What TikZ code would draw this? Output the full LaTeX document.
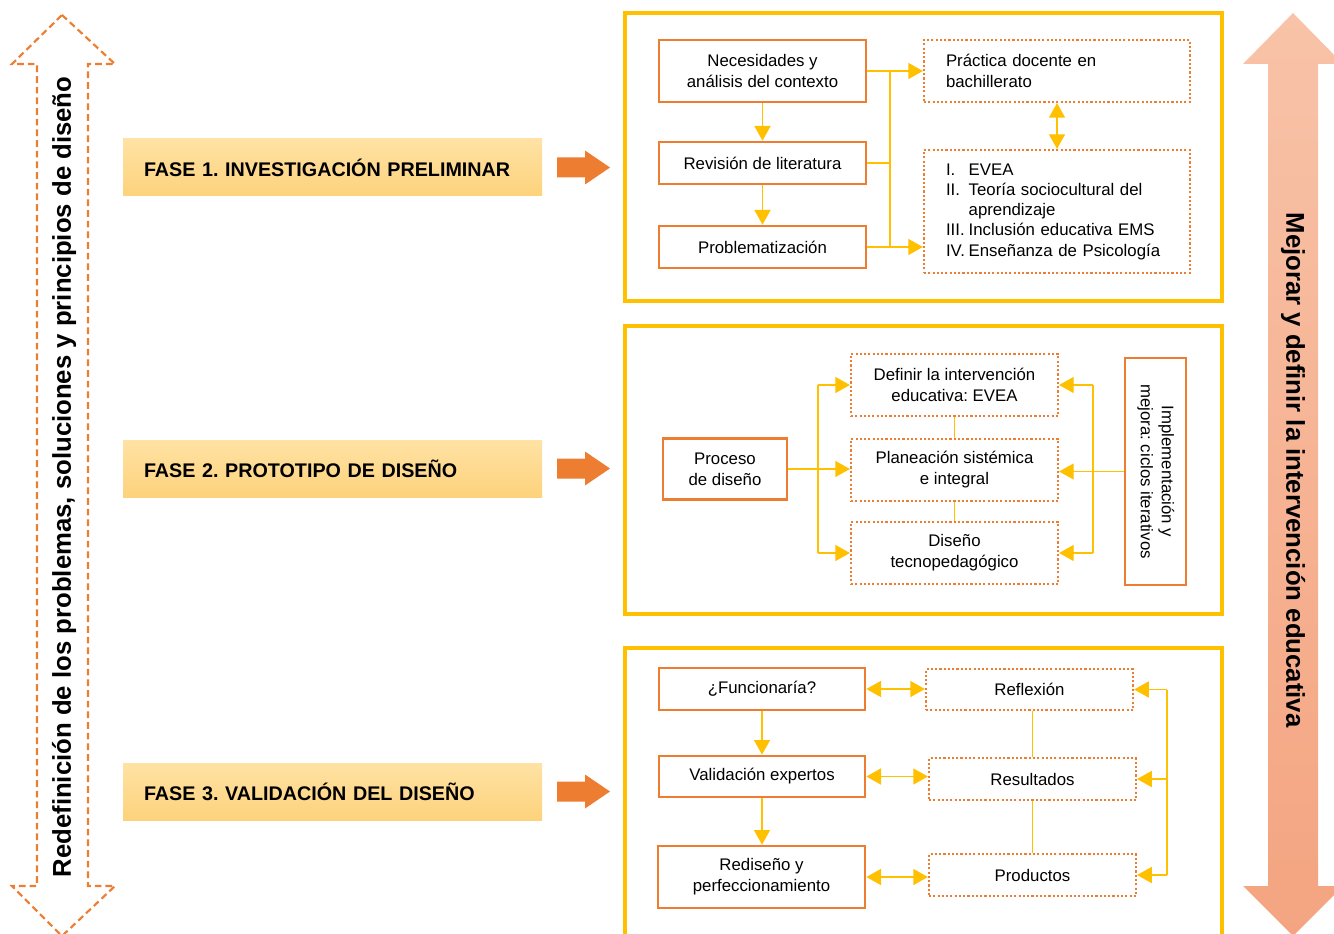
\documentclass[tikz,border=0pt]{standalone}
\usepackage{fontspec}
\setmainfont{Liberation Sans}
\usetikzlibrary{arrows.meta}
\definecolor{naranja}{HTML}{ED7D31}
\definecolor{amarillo}{HTML}{FFC000}
\definecolor{faseA}{HTML}{FFE2A4}
\definecolor{faseB}{HTML}{FDD27C}
\definecolor{flechaA}{HTML}{F8C3A8}
\definecolor{flechaB}{HTML}{F4A480}
\def\pxu{0.75pt}
\frenchspacing

\begin{document}
\begin{tikzpicture}[x=0.75pt, y=-0.75pt,
    solidbox/.style={draw=naranja, line width=2pt, fill=white, align=center,
      inner sep=0pt, font=\fontsize{12.6}{15.7}\selectfont},
    dotbox/.style={solidbox, line width=1.6pt, dash pattern=on 1.6pt off 1.6pt},
    phaseframe/.style={draw=amarillo, line width=3pt, inner sep=0pt},
    fasebox/.style={top color=faseA, bottom color=faseB, inner xsep=21*\pxu,
      inner ysep=0pt, text width=377*\pxu, minimum height=57*\pxu, align=left,
      font=\fontsize{14.8}{16}\selectfont\bfseries},
    plain/.style={draw=amarillo, line width=1.1pt},
    link/.style={plain, -{Triangle[length=11pt,width=12pt]}},
    dlink/.style={plain, {Triangle[length=11pt,width=12pt]}-{Triangle[length=11pt,width=12pt]}}]
  \useasboundingbox (0,0) rectangle (1334,934);

  \draw[naranja, line width=1.6pt, dash pattern=on 5pt off 3pt]
    (62,15) -- (115,64) -- (88,64) -- (88,886) -- (115,886) -- (62,936)
    -- (12,886) -- (37,886) -- (37,64) -- (12,64) -- cycle;
  \node[rotate=90, font=\fontsize{19.3}{21}\selectfont\bfseries] (redef) at (64,477)
    {Redefinición de los problemas, soluciones y principios de diseño};

  \shade[top color=flechaA, bottom color=flechaB]
    (1293,13) -- (1343,64) -- (1318,64) -- (1318,886) -- (1343,886) -- (1293,936)
    -- (1243,886) -- (1268,886) -- (1268,64) -- (1243,64) -- cycle;
  \node[rotate=-90, font=\fontsize{19.3}{21}\selectfont\bfseries] (mejorar) at (1293,470)
    {Mejorar y definir la intervención educativa};

  \foreach \n/\y/\t in {1/167.5/FASE 1. INVESTIGACIÓN PRELIMINAR,
                        2/468.5/FASE 2. PROTOTIPO DE DISEÑO,
                        3/791.5/FASE 3. VALIDACIÓN DEL DISEÑO} {
    \node[fasebox] (fase\n) at (332.5,\y) {\t};
    \fill[naranja] (557,\y-10) -- (585,\y-10) -- (585,\y-17) -- (610,\y)
      -- (585,\y+17) -- (585,\y+10) -- (557,\y+10) -- cycle;
  }

  \node[phaseframe, minimum width=597*\pxu, minimum height=288*\pxu] (marco1) at (923.5,157) {};
  \node[phaseframe, minimum width=597*\pxu, minimum height=288*\pxu] (marco2) at (923.5,470) {};
  \node[phaseframe, minimum width=597*\pxu, minimum height=300*\pxu] (marco3) at (923.5,798) {};

  \node[solidbox, minimum width=207*\pxu, minimum height=62*\pxu] (nec) at (762.5,71)
    {Necesidades y\\análisis del contexto};
  \node[solidbox, minimum width=207*\pxu, minimum height=42*\pxu] (rev) at (762.5,163)
    {Revisión de literatura};
  \node[solidbox, minimum width=207*\pxu, minimum height=42*\pxu] (prob) at (762.5,247)
    {Problematización};
  \node[dotbox, inner xsep=22*\pxu, text width=222*\pxu, align=left,
    minimum height=62*\pxu] (prac) at (1057,71) {Práctica docente en\\bachillerato};
  \node[dotbox, inner xsep=22*\pxu, text width=222*\pxu, align=left,
    minimum height=123*\pxu, font=\fontsize{12.6}{15.2}\selectfont] (teo) at (1057,211.5)
    {\begin{tabular}{@{}p{17pt}@{}l@{}}
      I. & EVEA\\
      II. & Teoría sociocultural del\\
          & aprendizaje\\
      III. & Inclusión educativa EMS\\
      IV. & Enseñanza de Psicología
    \end{tabular}};
  \coordinate (j1) at (890,71);
  \draw[link] (nec) -- (rev);
  \draw[link] (rev) -- (prob);
  \draw[link] (nec.east) -- (prac.west);
  \draw[plain] (rev.east) -- (rev.east -| j1);
  \draw[plain] (j1) -- (j1 |- prob.east);
  \draw[link] (prob.east) -- (prob.east -| teo.west);
  \draw[dlink] (prac) -- (teo);

  \node[solidbox, minimum width=124*\pxu, minimum height=61*\pxu] (proc) at (725,469)
    {Proceso\\de diseño};
  \node[dotbox, minimum width=207*\pxu, minimum height=62*\pxu] (def) at (954.5,385)
    {Definir la intervención\\educativa: EVEA};
  \node[dotbox, minimum width=207*\pxu, minimum height=62*\pxu] (plan) at (954.5,470)
    {Planeación sistémica\\e integral};
  \node[dotbox, minimum width=207*\pxu, minimum height=62*\pxu] (dis) at (954.5,553)
    {Diseño\\tecnopedagógico};
  \node[solidbox, minimum width=61*\pxu, minimum height=227*\pxu] (impl) at (1155.5,471.5)
    {\rotatebox{-90}{\begin{tabular}{@{}c@{}}Implementación y\\mejora: ciclos iterativos\end{tabular}}};
  \coordinate (j2) at (818,470);
  \coordinate (j3) at (1093,470);
  \draw[plain] (def) -- (plan);
  \draw[plain] (plan) -- (dis);
  \draw[link] (proc.east) -- (proc.east -| plan.west);
  \draw[plain] (def.west -| j2) -- (dis.west -| j2);
  \draw[link] (def.west -| j2) -- (def.west);
  \draw[link] (dis.west -| j2) -- (dis.west);
  \draw[link] (impl.west) -- (impl.west -| plan.east);
  \draw[plain] (def.east -| j3) -- (dis.east -| j3);
  \draw[link] (def.east -| j3) -- (def.east);
  \draw[link] (dis.east -| j3) -- (dis.east);

  \node[solidbox, minimum width=206*\pxu, minimum height=42*\pxu] (fun) at (762,689)
    {¿Funcionaría?};
  \node[solidbox, minimum width=206*\pxu, minimum height=41*\pxu] (val) at (762,776.5)
    {Validación expertos};
  \node[solidbox, minimum width=207*\pxu, minimum height=62*\pxu] (red) at (761.5,877)
    {Rediseño y\\perfeccionamiento};
  \node[dotbox, minimum width=207*\pxu, minimum height=41*\pxu] (refl) at (1029.5,689.5)
    {Reflexión};
  \node[dotbox, minimum width=207*\pxu, minimum height=42*\pxu] (res) at (1032.5,779)
    {Resultados};
  \node[dotbox, minimum width=207*\pxu, minimum height=42*\pxu] (prod) at (1032.5,875)
    {Productos};
  \coordinate (j4) at (1167,689);
  \draw[link] (fun) -- (val);
  \draw[link] (val.south) -- (val.south |- red.north);
  \draw[dlink] (fun.east) -- (fun.east -| refl.west);
  \draw[dlink] (val.east) -- (val.east -| res.west);
  \draw[dlink] (red.east) -- (red.east -| prod.west);
  \draw[plain] (res.north |- refl.south) -- (res.north);
  \draw[plain] (res) -- (prod);
  \draw[plain] (refl.east -| j4) -- (prod.east -| j4);
  \draw[link] (refl.east -| j4) -- (refl.east);
  \draw[link] (res.east -| j4) -- (res.east);
  \draw[link] (prod.east -| j4) -- (prod.east);
\end{tikzpicture}
\end{document}
